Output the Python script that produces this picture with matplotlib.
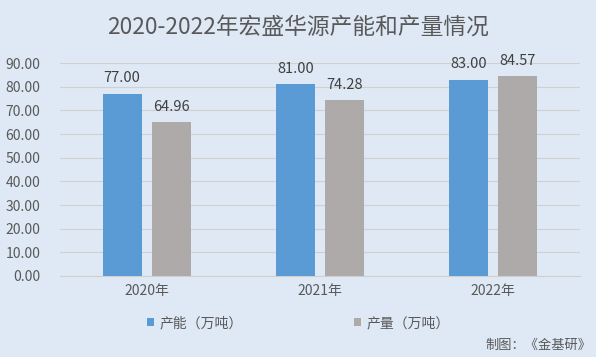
import matplotlib
matplotlib.use("Agg")
import matplotlib.pyplot as plt
import numpy as np

plt.rcParams['font.family'] = ['Noto Sans CJK SC', 'DejaVu Sans']

categories = ["2020年", "2021年", "2022年"]
capacity = [77.00, 81.00, 83.00]
output = [64.96, 74.28, 84.57]
series_names = ["产能（万吨）", "产量（万吨）"]
yticks = [0, 10, 20, 30, 40, 50, 60, 70, 80, 90]

bg = "#dee9f5"
c1 = "#5b9bd5"
c2 = "#aeaaaa"
tc = "#595959"

fig = plt.figure(figsize=(5.96, 3.57), dpi=100, facecolor=bg)
ax = fig.add_axes([0.1007, 0.2269, 0.8720, 0.5966], facecolor=bg)

x = np.arange(len(categories))
w = 0.225
off = 0.142
b1 = ax.bar(x - off, capacity, w, color=c1, label=series_names[0], zorder=3)
b2 = ax.bar(x + off, output, w, color=c2, label=series_names[1], zorder=3)

for rects, vals in ((b1, capacity), (b2, output)):
    for r, v in zip(rects, vals):
        ax.annotate(f"{v:.2f}", (r.get_x() + r.get_width() / 2, v),
                    xytext=(0, 6), textcoords="offset points",
                    ha="center", va="bottom", fontsize=10.5, color="#404040")

ax.set_xlim(-0.5, 2.5)
ax.set_ylim(0, 90)
ax.set_yticks(yticks)
ax.set_yticklabels([f"{v:.2f}" for v in yticks], fontsize=10, color=tc)
ax.set_xticks(x)
ax.set_xticklabels(categories, fontsize=10, color=tc)
ax.tick_params(axis='both', length=0)
ax.tick_params(axis='y', pad=14)
ax.tick_params(axis='x', pad=6)
ax.grid(axis='y', color="#d0d0d0", linewidth=0.8, zorder=0)
for s in ["left", "right", "top"]:
    ax.spines[s].set_visible(False)
ax.spines["bottom"].set_color("#d0d0d0")

fig.text(0.5, 0.924, "2020-2022年宏盛华源产能和产量情况", ha="center", va="center",
         fontsize=16.4, color=tc)

leg = fig.legend(handles=[b1, b2], labels=series_names, loc="center",
                 bbox_to_anchor=(0.5, 0.095), ncol=2, frameon=False,
                 fontsize=10, handlelength=0.5, handleheight=0.5,
                 handletextpad=0.4, columnspacing=8.0)
for t in leg.get_texts():
    t.set_color(tc)

fig.text(0.814, 0.033, "制图：《金基研》", ha="left", va="center", fontsize=9.5, color=tc)

fig.savefig("out.png", dpi=100, facecolor=bg)
